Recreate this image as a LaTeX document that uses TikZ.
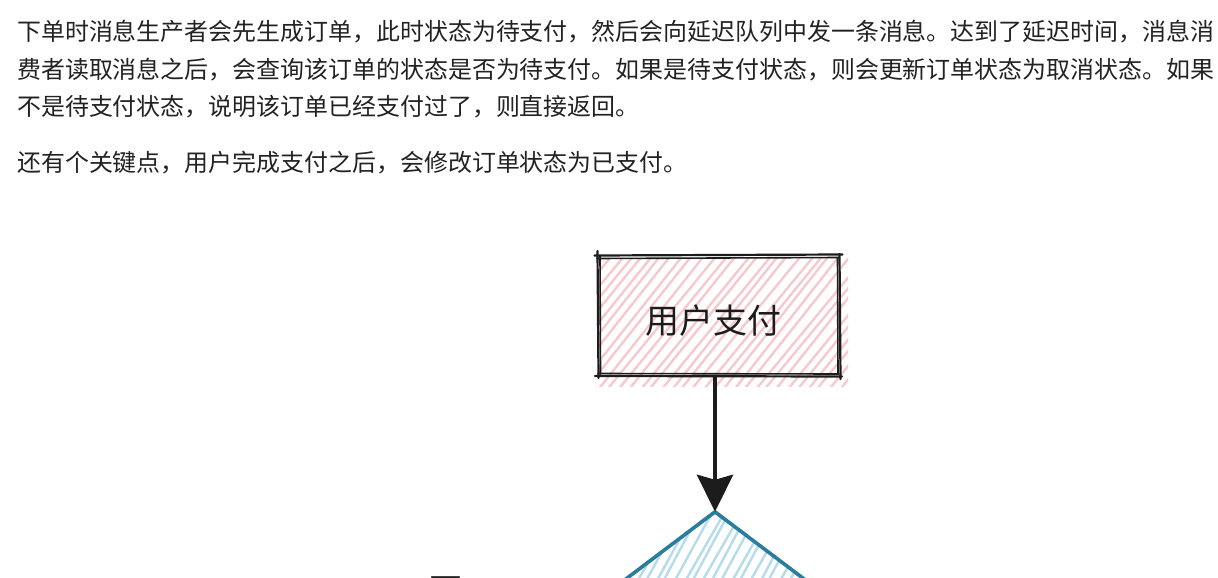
\documentclass[tikz,border=0pt]{standalone}
\usepackage{fontspec}
\newfontfamily\cjk{Noto Sans CJK SC}
\usetikzlibrary{shapes.geometric,arrows.meta}

\definecolor{ink}{HTML}{222222}
\definecolor{sketch}{HTML}{1C1C1C}
\definecolor{pinkhatch}{HTML}{F4BCC2}
\definecolor{diamondline}{HTML}{2B7D9E}
\definecolor{bluehatch}{HTML}{AED8EA}

\begin{document}
\begin{tikzpicture}[x=1pt,y=-1pt,
  para/.style={anchor=base west, inner sep=0, text=ink,
               font=\cjk\fontsize{23.94}{30}\selectfont},
  boxtext/.style={inner sep=0, text=sketch, font=\cjk\fontsize{34}{40}\selectfont},
  rough/.style={draw=sketch, line width=2.2pt, line cap=round},
  pinkline/.style={draw=pinkhatch, line width=2.4pt, opacity=0.8},
  blueline/.style={draw=bluehatch, line width=2.4pt, opacity=0.9},
  flow/.style={draw=sketch, line width=4.5pt,
               -{Stealth[length=37pt,width=36pt,inset=5pt]}}
]
\useasboundingbox (0,0) rectangle (1218,578);
\fill[white] (0,0) rectangle (1218,578);

% explanatory paragraphs
\node[para] (p1) at (17,40.5) {下单时消息生产者会先生成订单，此时状态为待支付，然后会向延迟队列中发一条消息。达到了延迟时间，消息消};
\node[para] (p2) at (17,78) {费者读取消息之后，会查询该订单的状态是否为待支付。如果是待支付状态，则会更新订单状态为取消状态。如果};
\node[para] (p3) at (17,115.5) {不是待支付状态，说明该订单已经支付过了，则直接返回。};
\node[para] (p4) at (17,171) {还有个关键点，用户完成支付之后，会修改订单状态为已支付。};

% "user pays" box: pink hatching, then a hand-drawn outline
\node[minimum width=243pt, minimum height=121pt, inner sep=0] (pay) at (718.5,315.5) {};
\begin{scope}
  \clip (599,258) rectangle (848,386);
  \pgfmathsetseed{7}
  \foreach \i in {0,...,36} {
    \pgfmathsetmacro{\xa}{480 + \i*10.5 + rnd*3}
    \pgfmathsetmacro{\xb}{\xa + 105 + rnd*6}
    \draw[pinkline] (\xa,390) -- (\xb,256);
  }
\end{scope}
\draw[rough] (594.5,255.5) -- (842.5,254.5);
\draw[rough, line width=1.6pt] (597,258.5) -- (839,257.5);
\draw[rough] (597.5,251) -- (598.5,378);
\draw[rough, line width=1.6pt] (600,256) -- (600.5,374);
\draw[rough] (839.5,254) -- (840.5,379);
\draw[rough, line width=1.6pt] (837.5,258) -- (838,374);
\draw[rough] (595,376) -- (842,376.5);
\draw[rough, line width=1.6pt] (598,373.5) -- (839,374);
\node[boxtext] (paytext) at (713,321) {用户支付};

% decision diamond, cut by the lower edge
\node[diamond, minimum width=260pt, minimum height=196pt, inner sep=0,
      shape aspect=1.33] (check) at (715,610) {};
\begin{scope}
  \clip (check.west) -- (check.north) -- (check.east) -- (check.south) -- cycle;
  \pgfmathsetseed{11}
  \foreach \i in {0,...,44} {
    \pgfmathsetmacro{\xa}{520 + \i*9.5 + rnd*3}
    \pgfmathsetmacro{\xb}{\xa + 50 + rnd*8}
    \draw[blueline] (\xa,600) -- (\xb,505);
  }
\end{scope}
\draw[diamondline, line width=3.6pt, line join=round]
  (check.west) -- (check.north) -- (check.east);
\draw[diamondline, line width=1.2pt, opacity=0.6]
  ([xshift=-1.5pt]check.west) -- ([yshift=-1.5pt]check.north) -- ([xshift=1.5pt]check.east);

% flow arrow from the box to the diamond
\draw[flow] (pay.south -| check.north) -- (check.north);

% label beside the diamond, mostly below the edge
\node[anchor=base, inner sep=0, text=ink, font=\cjk\fontsize{33}{40}\selectfont] (no) at (446,602) {否};
\end{tikzpicture}
\end{document}
